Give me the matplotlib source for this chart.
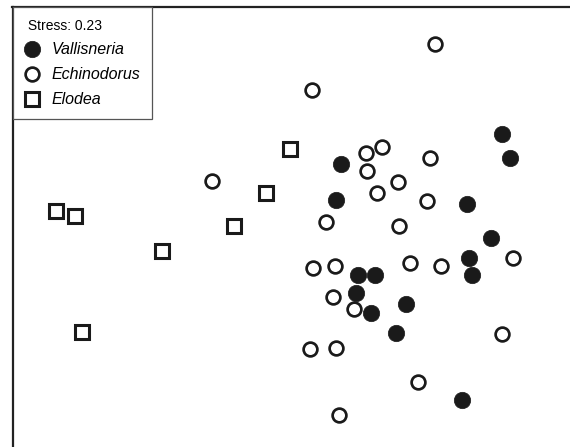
"""
NMDS ordination of plant samples (Vallisneria / Echinodorus / Elodea).
"""
import matplotlib
matplotlib.use("Agg")
import matplotlib.pyplot as plt
from matplotlib.lines import Line2D

plt.rcParams["font.family"] = ["Liberation Sans", "DejaVu Sans"]

STRESS = 0.23

# NMDS coordinates
vall_x = [1.06, 1.10, 0.255, 0.23, 0.885, 1.005, 0.895, 0.91, 0.34, 0.425,
          0.33, 0.405, 0.58, 0.53, 0.86]
vall_y = [0.48, 0.36, 0.33, 0.15, 0.13, -0.04, -0.14, -0.225, -0.225, -0.225,
          -0.315, -0.415, -0.37, -0.515, -0.85]

echi_x = [0.725, 0.11, 0.38, 0.46, 0.70, 0.385, -0.39, 0.54, 0.435, 0.685,
          0.18, 0.545, 0.115, 0.225, 0.60, 0.755, 1.115, 0.215, 0.32, 1.06,
          0.10, 0.23, 0.64, 0.245]
echi_y = [0.93, 0.70, 0.385, 0.415, 0.36, 0.295, 0.245, 0.24, 0.185, 0.145,
          0.04, 0.02, -0.19, -0.18, -0.165, -0.18, -0.14, -0.335, -0.395, -0.52,
          -0.595, -0.59, -0.76, -0.925]

elod_x = [0.0, -0.12, -1.17, -1.075, -0.28, -0.64, -1.04]
elod_y = [0.405, 0.185, 0.095, 0.07, 0.02, -0.105, -0.51]

labels = ["Vallisneria", "Echinodorus", "Elodea"]

INK = "#1a1a1a"

fig = plt.figure(figsize=(5.7, 4.47), dpi=100)
ax = fig.add_axes([12.5 / 570, 0, 1 - 12.5 / 570, 1 - 7 / 447])

ax.plot(vall_x, vall_y, "o", ls="none", ms=11.8, color=INK, mec=INK, mew=0.5)
ax.plot(echi_x, echi_y, "o", ls="none", ms=9.9, mfc="white", mec=INK, mew=1.95)
ax.plot(elod_x, elod_y, "s", ls="none", ms=9.4, mfc="white", mec=INK, mew=2.2)

ax.set_xlim(-1.3875, 1.4)
ax.set_ylim(-1.085, 1.115)
ax.set_xticks([]); ax.set_yticks([])
for s in ["right", "bottom"]:
    ax.spines[s].set_visible(False)
for s in ["left", "top"]:
    ax.spines[s].set_linewidth(1.6)
    ax.spines[s].set_color("#222222")

handles = [
    Line2D([], [], marker="o", ls="none", ms=11.8, color=INK, mew=0.5),
    Line2D([], [], marker="o", ls="none", ms=9.9, mfc="white", mec=INK, mew=1.95),
    Line2D([], [], marker="s", ls="none", ms=9.4, mfc="white", mec=INK, mew=2.2),
]
leg = ax.legend(handles, labels, title=" Stress: %.2f" % STRESS,
                loc="upper left", bbox_to_anchor=(0, 1), borderaxespad=0,
                fancybox=False, framealpha=1, edgecolor="#555555",
                alignment="left", title_fontsize=10,
                prop={"style": "italic", "size": 11.5},
                handlelength=1.0, handletextpad=0.75, labelspacing=0.62,
                borderpad=0.72)
leg.get_frame().set_linewidth(0.9)

fig.savefig("out.png", dpi=100)
